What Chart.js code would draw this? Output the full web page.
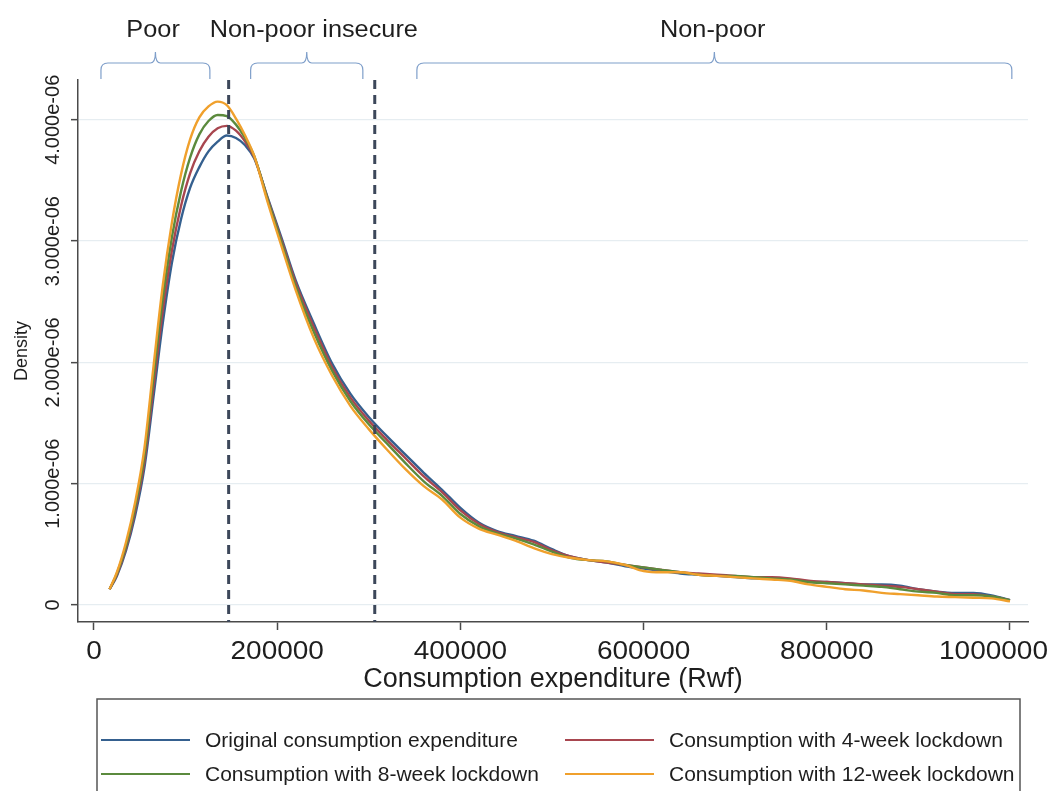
<!DOCTYPE html>
<html>
<head>
<meta charset="utf-8">
<script src="https://cdn.jsdelivr.net/npm/chart.js@4.4.1/dist/chart.umd.min.js"></script>
<style>
  html, body { margin: 0; padding: 0; background: #ffffff; }
  #wrap { width: 1051px; height: 791px; position: relative; overflow: hidden; }
</style>
</head>
<body>
<div id="wrap"><canvas id="c" width="1051" height="791"></canvas></div>
<script>
// Kernel density of household consumption expenditure (Rwf), density in units of 1e-6
const consumption = [
  17000, 25000, 35000, 45000, 55000, 65000, 75000, 85000, 95000, 105000,
  115000, 125000, 135000, 145000, 155000, 165000, 175000, 190000, 205000, 220000,
  240000, 260000, 280000, 300000, 320000, 340000, 360000, 380000, 400000, 420000,
  440000, 460000, 480000, 500000, 520000, 540000, 560000, 580000, 600000, 620000,
  640000, 660000, 680000, 700000, 720000, 740000, 760000, 780000, 800000, 820000,
  840000, 860000, 880000, 900000, 920000, 940000, 960000, 980000, 1000000
];

const densityOriginal = [
  0.13, 0.24, 0.45, 0.74, 1.13, 1.72, 2.32, 2.82, 3.18, 3.44,
  3.61, 3.74, 3.82, 3.87, 3.85, 3.79, 3.68, 3.35, 3.02, 2.68,
  2.32, 1.99, 1.74, 1.55, 1.39, 1.24, 1.09, 0.95, 0.80, 0.68,
  0.61, 0.57, 0.53, 0.46, 0.40, 0.37, 0.35, 0.32, 0.30, 0.28,
  0.26, 0.25, 0.24, 0.23, 0.22, 0.22, 0.21, 0.19, 0.19, 0.18,
  0.17, 0.17, 0.16, 0.13, 0.11, 0.10, 0.10, 0.08, 0.04
];

const density4Week = [
  0.13, 0.25, 0.47, 0.78, 1.18, 1.80, 2.42, 2.92, 3.29, 3.56,
  3.74, 3.86, 3.93, 3.95, 3.91, 3.82, 3.69, 3.34, 3.00, 2.66,
  2.29, 1.96, 1.71, 1.52, 1.36, 1.21, 1.06, 0.93, 0.78, 0.67,
  0.60, 0.56, 0.52, 0.45, 0.40, 0.37, 0.35, 0.33, 0.31, 0.29,
  0.27, 0.26, 0.25, 0.24, 0.23, 0.23, 0.22, 0.20, 0.19, 0.18,
  0.17, 0.16, 0.15, 0.13, 0.11, 0.09, 0.09, 0.07, 0.04
];

const density8Week = [
  0.13, 0.26, 0.49, 0.81, 1.23, 1.88, 2.52, 3.03, 3.41, 3.69,
  3.88, 3.99, 4.04, 4.03, 3.96, 3.85, 3.70, 3.33, 2.98, 2.63,
  2.25, 1.93, 1.68, 1.49, 1.33, 1.17, 1.02, 0.90, 0.75, 0.65,
  0.59, 0.55, 0.50, 0.44, 0.39, 0.37, 0.36, 0.33, 0.31, 0.29,
  0.27, 0.25, 0.24, 0.24, 0.23, 0.22, 0.21, 0.19, 0.18, 0.17,
  0.16, 0.15, 0.13, 0.11, 0.10, 0.08, 0.08, 0.07, 0.04
];

const density12Week = [
  0.13, 0.27, 0.52, 0.85, 1.29, 1.97, 2.63, 3.15, 3.55, 3.84,
  4.02, 4.11, 4.15, 4.12, 4.01, 3.87, 3.70, 3.31, 2.95, 2.60,
  2.20, 1.89, 1.64, 1.45, 1.28, 1.12, 0.98, 0.87, 0.72, 0.63,
  0.58, 0.53, 0.47, 0.42, 0.39, 0.37, 0.36, 0.33, 0.28, 0.27,
  0.27, 0.25, 0.24, 0.23, 0.22, 0.21, 0.20, 0.17, 0.15, 0.13,
  0.12, 0.10, 0.09, 0.08, 0.07, 0.065, 0.06, 0.055, 0.03
];

const seriesNames = [
  'Original consumption expenditure',
  'Consumption with 4-week lockdown',
  'Consumption with 8-week lockdown',
  'Consumption with 12-week lockdown'
];

// Poverty thresholds (Rwf) shown as dashed vertical lines
const thresholds = [147000, 306500];

// Welfare groups bracketed above the plot
const groupNames = ['Poor', 'Non-poor insecure', 'Non-poor'];
const groupFrom = [7600, 171000, 352500];
const groupTo = [126500, 293500, 1002000];
const groupLabelAt = [64500, 240000, 675500];

const xTickValues = [0, 200000, 400000, 600000, 800000, 1000000];
const xTickLabels = ['0', '200000', '400000', '600000', '800000', '1000000'];
const yTickValues = [0, 1e-6, 2e-6, 3e-6, 4e-6];
const yTickLabels = ['0', '1.000e-06', '2.000e-06', '3.000e-06', '4.000e-06'];

const UNIT = 1e-6;
const X_MIN = -17467, X_MAX = 1019651;
const Y_MIN = -0.140e-6, Y_MAX = 4.328e-6;

const FONT = '"Liberation Sans", Arial, Helvetica, sans-serif';
const TEXT = '#1e1e1e';
const AXIS = '#4a4a4a';
const COLORS = ['#35608f', '#a8464f', '#5b8a3d', '#f0a02c'];

function toPoints(values) {
  return values.map((v, i) => ({ x: consumption[i], y: v * UNIT }));
}

const curves = [densityOriginal, density4Week, density8Week, density12Week].map((vals, i) => ({
  label: seriesNames[i],
  data: toPoints(vals),
  borderColor: COLORS[i],
  borderWidth: 2.4,
  pointRadius: 0,
  fill: false,
  cubicInterpolationMode: 'monotone',
  order: 4 - i
}));

const thresholdLines = thresholds.map(t => ({
  label: 'threshold',
  data: [{ x: t, y: Y_MAX }, { x: t, y: Y_MIN }],
  borderColor: '#3c475a',
  borderWidth: 3,
  borderDash: [9, 6],
  pointRadius: 0,
  fill: false,
  order: 0
}));

function drawBrace(ctx, x1, x2, yb, ym, yt) {
  const xm = (x1 + x2) / 2;
  const r = 7;
  ctx.beginPath();
  ctx.moveTo(x1, yb);
  ctx.lineTo(x1, ym + r);
  ctx.quadraticCurveTo(x1, ym, x1 + r, ym);
  ctx.lineTo(xm - 5, ym);
  ctx.quadraticCurveTo(xm, ym, xm, yt);
  ctx.quadraticCurveTo(xm, ym, xm + 5, ym);
  ctx.lineTo(x2 - r, ym);
  ctx.quadraticCurveTo(x2, ym, x2, ym + r);
  ctx.lineTo(x2, yb);
  ctx.stroke();
}

// text drawn slightly widened, the way the axis lettering is set
function wideText(ctx, text, x, y, stretch) {
  ctx.save();
  ctx.translate(x, y);
  ctx.scale(stretch, 1);
  ctx.fillText(text, 0, 0);
  ctx.restore();
}

const decorations = {
  id: 'decorations',
  afterDraw(chart) {
    const ctx = chart.ctx;
    const xs = chart.scales.x;
    const ys = chart.scales.y;
    const area = chart.chartArea;

    // x tick labels, the last one kept inside the canvas
    ctx.save();
    ctx.fillStyle = TEXT;
    ctx.font = '25px ' + FONT;
    ctx.textAlign = 'center';
    ctx.textBaseline = 'middle';
    const stretch = 1.12;
    xTickValues.forEach((v, i) => {
      const w = ctx.measureText(xTickLabels[i]).width * stretch;
      let px = xs.getPixelForValue(v);
      px = Math.min(px, chart.width - 3 - w / 2);
      wideText(ctx, xTickLabels[i], px, 652, stretch);
    });
    ctx.restore();

    // rotated y tick labels
    ctx.save();
    ctx.fillStyle = TEXT;
    ctx.font = '20px ' + FONT;
    ctx.textAlign = 'center';
    ctx.textBaseline = 'middle';
    yTickValues.forEach((v, i) => {
      const py = ys.getPixelForValue(v);
      ctx.save();
      ctx.translate(area.left - 25, py);
      ctx.rotate(-Math.PI / 2);
      ctx.fillText(yTickLabels[i], 0, 0);
      ctx.restore();
    });
    ctx.restore();

    // group braces and their names
    ctx.save();
    ctx.strokeStyle = '#7f9fca';
    ctx.lineWidth = 1.2;
    ctx.fillStyle = TEXT;
    ctx.font = '23px ' + FONT;
    ctx.textAlign = 'center';
    ctx.textBaseline = 'middle';
    groupNames.forEach((name, i) => {
      const x1 = xs.getPixelForValue(groupFrom[i]);
      const x2 = xs.getPixelForValue(groupTo[i]);
      drawBrace(ctx, x1, x2, area.top - 1, area.top - 17, area.top - 28);
      wideText(ctx, name, xs.getPixelForValue(groupLabelAt[i]), 31, 1.1);
    });
    ctx.restore();

    // legend box
    const boxL = area.left + 19, boxR = area.right - 8, boxT = 699;
    ctx.save();
    ctx.strokeStyle = '#555555';
    ctx.lineWidth = 1.5;
    ctx.beginPath();
    ctx.moveTo(boxL, chart.height + 5);
    ctx.lineTo(boxL, boxT);
    ctx.lineTo(boxR, boxT);
    ctx.lineTo(boxR, chart.height + 5);
    ctx.stroke();

    ctx.font = '21px ' + FONT;
    ctx.textAlign = 'left';
    ctx.textBaseline = 'middle';
    const colX = [boxL + 4, boxL + 468];
    const rowY = [740, 774];
    seriesNames.forEach((name, i) => {
      const cx = colX[i % 2];
      const cy = rowY[Math.floor(i / 2)];
      ctx.strokeStyle = COLORS[i];
      ctx.lineWidth = 2.2;
      ctx.beginPath();
      ctx.moveTo(cx, cy);
      ctx.lineTo(cx + 89, cy);
      ctx.stroke();
      ctx.fillStyle = TEXT;
      ctx.fillText(name, cx + 104, cy + 1);
    });
    ctx.restore();
  }
};

new Chart(document.getElementById('c'), {
  type: 'line',
  data: { datasets: [...thresholdLines, ...curves] },
  options: {
    responsive: false,
    animation: false,
    layout: { padding: { top: 80, right: 23, bottom: 94, left: 0 } },
    plugins: { legend: { display: false }, tooltip: { enabled: false } },
    scales: {
      x: {
        type: 'linear',
        min: X_MIN,
        max: X_MAX,
        afterBuildTicks: s => { s.ticks = xTickValues.map(v => ({ value: v })); },
        afterFit: s => { s.height = 75; s.paddingLeft = 0; s.paddingRight = 0; },
        ticks: {
          autoSkip: false, maxRotation: 0, minRotation: 0, padding: 6,
          color: 'rgba(0,0,0,0)', font: { family: FONT, size: 25 },
          callback: v => xTickLabels[xTickValues.indexOf(v)]
        },
        grid: { drawOnChartArea: false, drawTicks: true, tickLength: 8, tickColor: AXIS, tickWidth: 1.5 },
        border: { display: true, color: AXIS, width: 1.5 },
        title: {
          display: true, text: 'Consumption expenditure (Rwf)', color: TEXT,
          font: { family: FONT, size: 27 }, padding: { top: 0, bottom: 1 }
        }
      },
      y: {
        type: 'linear',
        min: Y_MIN,
        max: Y_MAX,
        afterBuildTicks: s => { s.ticks = yTickValues.map(v => ({ value: v })); },
        afterFit: s => { s.width = 78; s.paddingTop = 0; s.paddingBottom = 0; },
        ticks: { color: 'rgba(0,0,0,0)', font: { family: FONT, size: 20 }, callback: v => '' },
        grid: { color: '#e6edf1', lineWidth: 1.3, drawTicks: true, tickLength: 7, tickColor: AXIS, tickWidth: 1.5 },
        border: { display: true, color: AXIS, width: 1.5 },
        title: {
          display: true, text: 'Density', color: TEXT,
          font: { family: FONT, size: 18 }, padding: { top: 11, bottom: 0 }
        }
      }
    }
  },
  plugins: [decorations]
});
</script>
</body>
</html>
